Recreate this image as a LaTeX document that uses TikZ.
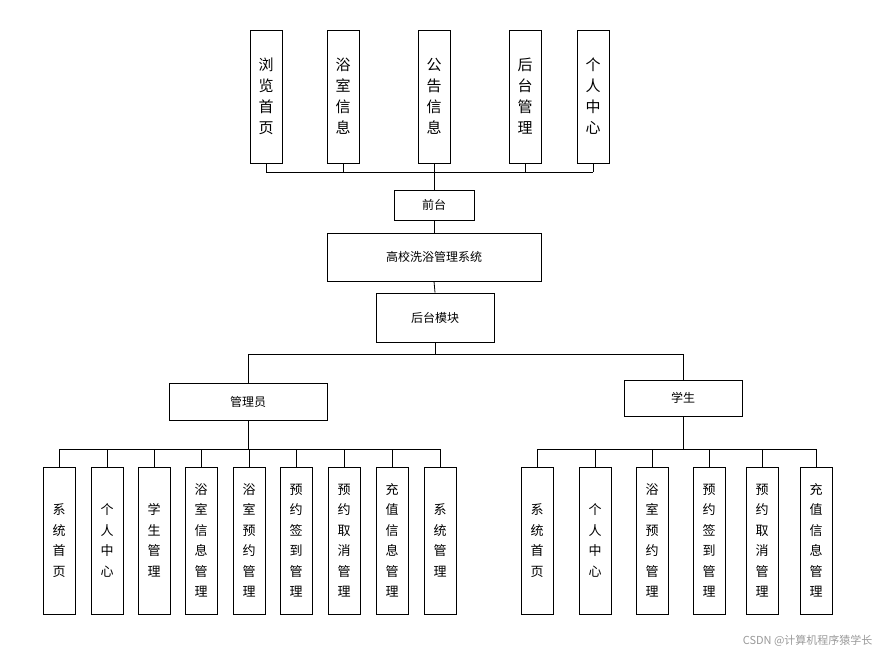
\documentclass[tikz,border=0pt]{standalone}
\usepackage{fontspec}
\setmainfont{Noto Sans CJK SC}
\begin{document}
\begin{tikzpicture}[x=1pt,y=-1pt,
  bx/.style={draw,line width=0.8pt,inner sep=0pt,align=center},
  vt/.style={bx,minimum width=32pt,minimum height=133pt,font=\fontsize{15}{21}\selectfont},
  vb/.style={bx,minimum width=32pt,minimum height=147pt,font=\fontsize{13}{20.5}\selectfont},
  hb/.style={bx,font=\fontsize{12}{14}\selectfont},
  ln/.style={line width=0.8pt}]
\useasboundingbox (0,0) rectangle (880,657);
% top
\node[vt] (t1) at (266,96.5) {浏\\览\\首\\页};
\node[vt] (t2) at (343,96.5) {浴\\室\\信\\息};
\node[vt] (t3) at (434,96.5) {公\\告\\信\\息};
\node[vt] (t4) at (525,96.5) {后\\台\\管\\理};
\node[vt] (t5) at (593,96.5) {个\\人\\中\\心};
\node[hb,minimum width=80pt,minimum height=30pt] (qt) at (434,205) {前台};
\node[hb,minimum width=214pt,minimum height=48pt] (sys) at (434,257) {高校洗浴管理系统};
\node[hb,minimum width=118pt,minimum height=49pt] (ht) at (435,317.5) {后台模块};
\node[hb,minimum width=158pt,minimum height=37pt] (adm) at (248,401.5) {管理员};
\node[hb,minimum width=118pt,minimum height=36pt] (stu) at (683,398) {学生};
\coordinate (tb) at (434,172);
\foreach \n in {t1,t2,t3,t4,t5} \draw[ln] (\n.south) -- (\n.south |- tb);
\draw[ln] (t1.south |- tb) -- (t5.south |- tb);
\draw[ln] (tb) -- (qt.north);
\draw[ln] (qt.south) -- (sys.north);
\draw[ln] (sys.south) -- (ht.north);
\coordinate (mb) at (435,354);
\draw[ln] (ht.south) -- (mb);
\draw[ln] (adm.north |- mb) -- (stu.north |- mb);
\draw[ln] (adm.north |- mb) -- (adm.north);
\draw[ln] (stu.north |- mb) -- (stu.north);
% left
\coordinate (lb) at (248,449);
\foreach \x/\t [count=\i] in {59/系\\统\\首\\页,107/个\\人\\中\\心,154/学\\生\\管\\理,201/浴\\室\\信\\息\\管\\理,249/浴\\室\\预\\约\\管\\理,296/预\\约\\签\\到\\管\\理,344/预\\约\\取\\消\\管\\理,392/充\\值\\信\\息\\管\\理,440/系\\统\\管\\理}{
  \node[vb] (l\i) at (\x,540.5) {\t};
  \draw[ln] (l\i.north) -- (l\i.north |- lb);
}
\draw[ln] (l1.north |- lb) -- (l9.north |- lb);
\draw[ln] (adm.south) -- (lb);
% right
\coordinate (rb) at (683,449);
\foreach \x/\t [count=\i] in {537/系\\统\\首\\页,595/个\\人\\中\\心,652/浴\\室\\预\\约\\管\\理,709/预\\约\\签\\到\\管\\理,762/预\\约\\取\\消\\管\\理,816/充\\值\\信\\息\\管\\理}{
  \node[vb] (r\i) at (\x,540.5) {\t};
  \draw[ln] (r\i.north) -- (r\i.north |- rb);
}
\draw[ln] (r1.north |- rb) -- (r6.north |- rb);
\draw[ln] (stu.south) -- (rb);
\node[anchor=east,text=black!40,font=\fontsize{11}{12}\selectfont] (wm) at (876,641) {CSDN @计算机程序猿学长};
\end{tikzpicture}
\end{document}
